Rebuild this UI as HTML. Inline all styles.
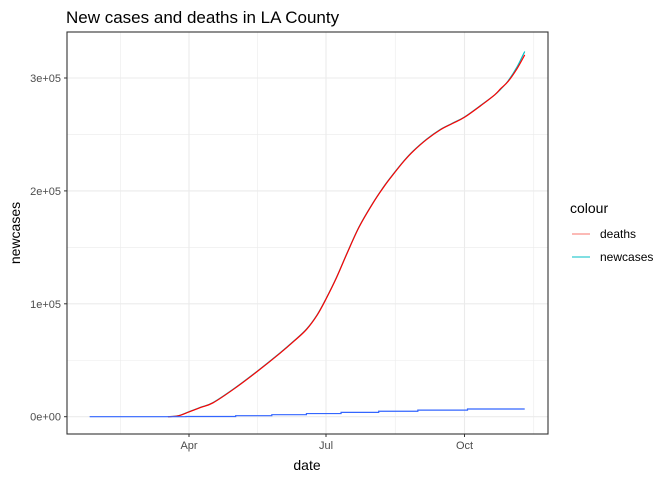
<!DOCTYPE html>
<html><head><meta charset="utf-8"><style>body{margin:0;background:#fff}svg{font-family:"Liberation Sans",sans-serif}</style></head>
<body>
<svg id="c" width="672" height="480">
<text x="66" y="23" font-size="17" fill="#000">New cases and deaths in LA County</text>
<g id="grid"></g>
<g id="lines"></g>
<rect x="67" y="32" width="481" height="402" fill="none" stroke="#333" stroke-width="1.1"/>
<g id="axes"></g>
<text x="307" y="470" font-size="14" text-anchor="middle">date</text>
<text transform="translate(20,233) rotate(-90)" font-size="14" text-anchor="middle">newcases</text>
<g>
<text x="570" y="213" font-size="14">colour</text>
<g><line x1="572" x2="590" y1="234" y2="234" stroke="#F8766D" stroke-width="1"/><text x="600" y="238" font-size="12">deaths</text></g>
<g><line x1="572" x2="590" y1="257" y2="257" stroke="#00BFC4" stroke-width="1"/><text x="600" y="261" font-size="12">newcases</text></g>
</g>
</svg>
<script>
// days relative to Apr 1
const caseDays=[-14,-7,0,8,16,30,45,60,70,78,85,91,98,105,113,122,130,136,143,149,158,167,175,183,195,203,207,212,218,223];
const caseVals=[0,900,4400,8500,12600,25000,40000,56000,67500,77500,90000,104500,123500,145000,168300,189000,205000,215500,227000,235500,246000,254500,260000,265500,277000,285000,290000,297500,310000,323500];
const deathVals=[0,800,4200,8300,12300,24700,39700,55700,67200,77200,89700,104200,123200,144700,168000,188700,204700,215200,226700,235200,245700,254200,259700,265200,276700,285000,290500,297000,308500,320500];
const stepDays=[-66,-2,31,55,78,101,126,152,185,223];
const stepVals=[0,200,900,1800,2800,3800,4800,5800,6800,6800];
const xTickDays=[0,91,183];
const xTickLabels=["Apr","Jul","Oct"];
const yTicks=[0,100000,200000,300000];
const yTickLabels=["0e+00","1e+05","2e+05","3e+05"];
const ns="http://www.w3.org/2000/svg";
const X=d=>189+d*(137/91);
const Y=v=>416.7-v*0.001129;
function mk(t,a,p){const e=document.createElementNS(ns,t);for(const k in a)e.setAttribute(k,a[k]);p.appendChild(e);return e;}
function smooth(pts){let d='M'+pts[0][0]+','+pts[0][1];for(let i=0;i<pts.length-1;i++){const p0=pts[Math.max(0,i-1)],p1=pts[i],p2=pts[i+1],p3=pts[Math.min(pts.length-1,i+2)];
 const c1x=p1[0]+(p2[0]-p0[0])/6,c1y=p1[1]+(p2[1]-p0[1])/6,c2x=p2[0]-(p3[0]-p1[0])/6,c2y=p2[1]-(p3[1]-p1[1])/6;
 d+=' C'+c1x+','+c1y+' '+c2x+','+c2y+' '+p2[0]+','+p2[1];}return d;}
const grid=document.getElementById('grid'),lines=document.getElementById('lines'),axes=document.getElementById('axes');
for(let i=0;i<yTicks.length;i++){
 const y=Y(yTicks[i]);
 const g=mk('line',{x1:67,x2:548,y1:y,y2:y,stroke:'#ebebeb','stroke-width':1.1},grid);
 
 
 if(i<yTicks.length-1){const ym=Y((yTicks[i]+yTicks[i+1])/2);const m=mk('line',{x1:67,x2:548,y1:ym,y2:ym,stroke:'#ebebeb','stroke-width':0.6},grid);
 
 }
 const t=mk('text',{x:61,y:y+4,'font-size':11,fill:'#4d4d4d','text-anchor':'end'},axes);t.textContent=yTickLabels[i];
 
 
 mk('line',{x1:64,x2:67,y1:y,y2:y,stroke:'#333'},axes);
}
for(let i=0;i<xTickDays.length;i++){
 const x=X(xTickDays[i]);
 const g=mk('line',{x1:x,x2:x,y1:32,y2:434,stroke:'#ebebeb','stroke-width':1.1},grid);
 
 
 const t=mk('text',{x:x,y:449,'font-size':11,fill:'#4d4d4d','text-anchor':'middle'},axes);t.textContent=xTickLabels[i];
 
 
 mk('line',{x1:x,x2:x,y1:434,y2:437,stroke:'#333'},axes);
}
for(const d of [-45.5,45.5,137,229]){const x=X(d);if(x>67&&x<548){const m=mk('line',{x1:x,x2:x,y1:32,y2:434,stroke:'#ebebeb','stroke-width':0.6},grid);
 
 }}
const c=mk('path',{d:smooth(caseDays.map((d,i)=>[X(d),Y(caseVals[i])])),fill:'none',stroke:'#00BFC4','stroke-width':1.2},lines);


const r=mk('path',{d:smooth(caseDays.map((d,i)=>[X(d),Y(deathVals[i])])),fill:'none',stroke:'#FF0000','stroke-width':1.2},lines);


let sp=[];for(let i=0;i<stepDays.length;i++){if(i>0)sp.push(X(stepDays[i])+','+Y(stepVals[i-1]));sp.push(X(stepDays[i])+','+Y(stepVals[i]));}
const b=mk('polyline',{points:sp.join(' '),fill:'none',stroke:'#3366FF','stroke-width':1.2},lines);


</script>
</body></html>
